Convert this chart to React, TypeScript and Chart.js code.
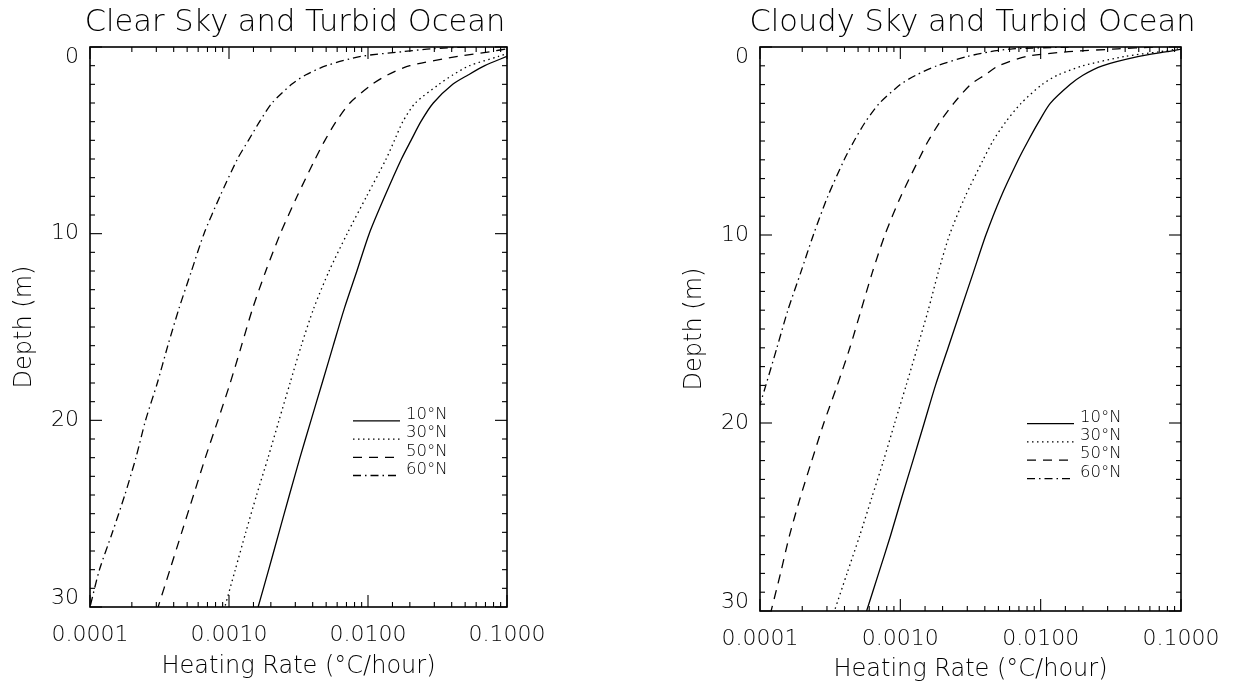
import React, { useEffect, useRef } from "react";
import { Chart, registerables } from "chart.js";

Chart.register(...registerables);

// ---------------- data ----------------
const depths = [0, 0.1, 0.25, 0.5, 1, 1.5, 2, 3, 4, 5, 6, 8, 10, 12, 14, 16, 18, 20, 22, 24, 26, 28, 30];
const latitudes = ["10°N", "30°N", "50°N", "60°N"];

// Clear sky, heating rate (°C/hour) at each depth
const clear10N = [0.158, 0.141, 0.12, 0.1, 0.0692, 0.0525, 0.0407, 0.0295, 0.024, 0.0204, 0.0174, 0.0132, 0.0102, 0.00832, 0.00676, 0.00562, 0.00468, 0.00389, 0.00324, 0.00272, 0.00229, 0.00193, 0.00162];
const clear30N = [0.141, 0.126, 0.11, 0.0871, 0.0537, 0.0407, 0.0324, 0.0219, 0.0178, 0.0155, 0.0135, 0.00977, 0.00708, 0.00525, 0.00407, 0.00331, 0.00275, 0.00229, 0.00191, 0.00158, 0.00132, 0.00111, 0.000933];
const clear50N = [0.126, 0.1, 0.0759, 0.0447, 0.02, 0.0138, 0.0107, 0.00741, 0.00589, 0.0049, 0.00417, 0.00309, 0.00234, 0.00184, 0.00148, 0.00123, 0.00102, 0.000832, 0.000676, 0.000556, 0.000457, 0.000376, 0.000309];
const clear60N = [0.0501, 0.0282, 0.0178, 0.00891, 0.00501, 0.00355, 0.00282, 0.00204, 0.00166, 0.00138, 0.00115, 0.000861, 0.000661, 0.000537, 0.000437, 0.000363, 0.000305, 0.000251, 0.000214, 0.000178, 0.000145, 0.000117, 0.0001];

// Cloudy sky
const cloudy10N = [0.112, 0.102, 0.0794, 0.0501, 0.0275, 0.02, 0.0162, 0.0117, 0.00966, 0.00813, 0.00692, 0.00519, 0.00407, 0.00331, 0.00269, 0.00219, 0.00178, 0.00148, 0.00123, 0.00102, 0.000851, 0.0007, 0.000575];
const cloudy30N = [0.112, 0.0955, 0.0708, 0.0398, 0.02, 0.0132, 0.0102, 0.00724, 0.00562, 0.00457, 0.00389, 0.00288, 0.00224, 0.00186, 0.00158, 0.00132, 0.0011, 0.000912, 0.000759, 0.000624, 0.000513, 0.000417, 0.000339];
const cloudy50N = [0.0631, 0.0355, 0.0158, 0.00794, 0.00501, 0.00398, 0.00316, 0.0024, 0.00191, 0.00158, 0.00135, 0.001, 0.000776, 0.000631, 0.000525, 0.000437, 0.000355, 0.000285, 0.000234, 0.000193, 0.000162, 0.00014, 0.00012];
const cloudy60N = [0.0158, 0.00631, 0.00437, 0.00302, 0.00182, 0.00129, 0.001, 0.000708, 0.000562, 0.000468, 0.000398, 0.000302, 0.00024, 0.000195, 0.000158, 0.000132, 0.00011, 0.0000912, null, null, null, null, null];

const yLabelValues = [0, 10, 20, 30];
const panelTitles = ["Clear Sky and Turbid Ocean", "Cloudy Sky and Turbid Ocean"];
const xAxisTitle = "Heating Rate (°C/hour)";
const yAxisTitle = "Depth (m)";

// ---------------- styles ----------------
const FONT = "'DejaVu Sans', 'Liberation Sans', sans-serif";
const WEIGHT = "200";
const INK = "#000";
const dashes: number[][] = [[], [1.5, 3.5], [9, 7], [8, 4, 1.5, 4]];

type PanelCfg = {
  title: string;
  rates: (number | null)[][];
  yAxisWidth: number;
  rightGap: number;
  xAxisHeight: number;
  yTitlePad: number;
  xTitlePad: number;
};

function toPoints(rates: (number | null)[]) {
  const pts: { x: number; y: number }[] = [];
  depths.forEach((d, i) => {
    const r = rates[i];
    if (r != null) pts.push({ x: r, y: d });
  });
  return pts;
}

const isDecade = (v: number) => Math.abs(Math.log10(v) - Math.round(Math.log10(v))) < 1e-6;

const idlFrame = {
  id: "idlFrame",
  afterDatasetsDraw(chart: any) {
    const { ctx, chartArea, scales } = chart;
    const { left, right, top, bottom } = chartArea;
    const x = scales.x;
    const y = scales.y;
    ctx.save();
    ctx.strokeStyle = INK;
    ctx.setLineDash([]);
    ctx.lineWidth = 1.6;
    ctx.strokeRect(left, top, right - left, bottom - top);

    ctx.lineWidth = 1.1;
    const seg = (x1: number, y1: number, x2: number, y2: number) => {
      ctx.beginPath();
      ctx.moveTo(x1, y1);
      ctx.lineTo(x2, y2);
      ctx.stroke();
    };
    x.ticks.forEach((t: any) => {
      const px = x.getPixelForValue(t.value);
      const len = isDecade(t.value) ? 12 : 5;
      seg(px, bottom, px, bottom - len);
      seg(px, top, px, top + len);
    });
    y.ticks.forEach((t: any) => {
      const py = y.getPixelForValue(t.value);
      const len = t.value % 10 === 0 ? 12 : 5;
      seg(left, py, left + len, py);
      seg(right, py, right - len, py);
    });

    // y tick labels (IDL style: end labels nudged inside)
    ctx.fillStyle = INK;
    ctx.font = `${WEIGHT} 22px ${FONT}`;
    ctx.textAlign = "right";
    ctx.textBaseline = "middle";
    yLabelValues.forEach((v) => {
      let py = y.getPixelForValue(v);
      if (v === y.min) py += 10;
      if (v === y.max) py -= 9;
      ctx.fillText(String(v), left - 11, py);
    });

    // legend inside plot
    const h = bottom - top;
    const sampleStart = right - 154;
    const sampleLen = 47;
    const firstRow = top + 0.657 * h;
    const rowGap = 0.0325 * h;
    ctx.font = `${WEIGHT} 16.5px ${FONT}`;
    ctx.textAlign = "left";
    chart.data.datasets.forEach((ds: any, i: number) => {
      const cy = firstRow + i * rowGap;
      ctx.lineWidth = ds.borderWidth;
      ctx.setLineDash(ds.borderDash || []);
      seg(sampleStart, cy + 6, sampleStart + sampleLen, cy + 6);
      ctx.setLineDash([]);
      ctx.fillText(ds.label, sampleStart + sampleLen + 6, cy);
    });
    ctx.restore();
  },
};

function makeChart(canvas: HTMLCanvasElement, cfg: PanelCfg) {
  return new Chart(canvas, {
    type: "scatter",
    data: {
      datasets: cfg.rates.map((r, i) => ({
        label: latitudes[i],
        data: toPoints(r),
        showLine: true,
        borderColor: INK,
        backgroundColor: INK,
        borderWidth: 1.3,
        borderDash: dashes[i],
        pointRadius: 0,
        tension: 0.25,
      })),
    },
    options: {
      animation: false,
      responsive: false,
      layout: { padding: 0 },
      plugins: {
        legend: { display: false },
        tooltip: { enabled: false },
        title: {
          display: true,
          text: cfg.title,
          color: INK,
          font: { family: FONT, size: 30.5, weight: WEIGHT as any, lineHeight: 1.2 },
          padding: { top: 5, bottom: 5.4 },
        },
      },
      scales: {
        x: {
          type: "logarithmic",
          min: 0.0001,
          max: 0.1,
          grid: { display: false, drawTicks: false },
          border: { display: false },
          ticks: {
            autoSkip: false,
            maxRotation: 0,
            padding: 15,
            color: INK,
            font: { family: FONT, size: 22, weight: WEIGHT as any },
            callback: (v: any) => (isDecade(Number(v)) ? Number(v).toFixed(4) : ""),
          },
          title: {
            display: true,
            text: xAxisTitle,
            color: INK,
            font: { family: FONT, size: 24, weight: WEIGHT as any },
            padding: { top: 0, bottom: cfg.xTitlePad },
          },
          afterFit: (s: any) => {
            s.height = cfg.xAxisHeight;
          },
        },
        y: {
          type: "linear",
          position: "left",
          min: 0,
          max: 30,
          reverse: true,
          grid: { display: false, drawTicks: false },
          border: { display: false },
          ticks: { stepSize: 1, display: false },
          title: {
            display: true,
            text: yAxisTitle,
            color: INK,
            font: { family: FONT, size: 24, weight: WEIGHT as any },
            padding: { top: cfg.yTitlePad, bottom: 0 },
          },
          afterFit: (s: any) => {
            s.width = cfg.yAxisWidth;
          },
        },
        // empty right-hand axis: only reserves the margin right of the frame
        yRight: {
          type: "linear",
          axis: "y",
          position: "right",
          display: true,
          grid: { display: false, drawTicks: false },
          border: { display: false },
          ticks: { display: false },
          afterFit: (s: any) => {
            s.width = cfg.rightGap;
          },
        },
      },
    },
    plugins: [idlFrame],
  } as any);
}

export default function App() {
  const leftRef = useRef<HTMLCanvasElement>(null);
  const rightRef = useRef<HTMLCanvasElement>(null);

  useEffect(() => {
    const a = makeChart(leftRef.current!, {
      title: panelTitles[0],
      rates: [clear10N, clear30N, clear50N, clear60N],
      yAxisWidth: 90,
      rightGap: 83,
      xAxisHeight: 81,
      yTitlePad: 10.5,
      xTitlePad: 6.5,
    });
    const b = makeChart(rightRef.current!, {
      title: panelTitles[1],
      rates: [cloudy10N, cloudy30N, cloudy50N, cloudy60N],
      yAxisWidth: 89,
      rightGap: 93,
      xAxisHeight: 77,
      yTitlePad: 9.5,
      xTitlePad: 3.5,
    });
    return () => {
      a.destroy();
      b.destroy();
    };
  }, []);

  return (
    <div
      style={{
        position: "fixed",
        left: 0,
        top: 0,
        width: 1234,
        height: 688,
        background: "#fff",
        overflow: "hidden",
      }}
    >
      <canvas ref={leftRef} width={590} height={688} style={{ position: "absolute", left: 0, top: 0 }} />
      <canvas ref={rightRef} width={603} height={688} style={{ position: "absolute", left: 671, top: 0 }} />
    </div>
  );
}
